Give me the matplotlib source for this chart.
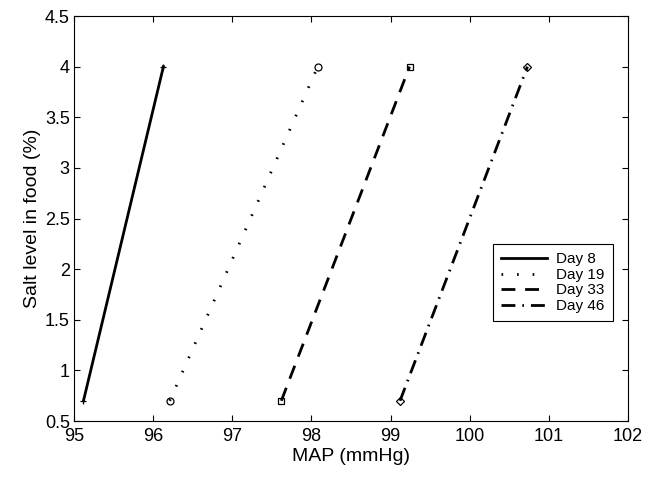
import matplotlib
matplotlib.use("Agg")
import matplotlib.pyplot as plt

plt.rcParams['font.family'] = ['Liberation Sans', 'DejaVu Sans']

# salt level in food (%) and mean arterial pressure per day
salt = [0.7, 4.0]
map_day8 = [95.12, 96.13]
map_day19 = [96.21, 98.08]
map_day33 = [97.62, 99.24]
map_day46 = [99.12, 100.73]

labels = ["Day 8", "Day 19", "Day 33", "Day 46"]
xticks = [95, 96, 97, 98, 99, 100, 101, 102]
yticks = [0.5, 1, 1.5, 2, 2.5, 3, 3.5, 4, 4.5]

fig = plt.figure(figsize=(6.57, 4.78), dpi=100)
ax = fig.add_axes([0.1126, 0.1192, 0.8432, 0.8473])

series = [
    (map_day8, '-', '+'),
    (map_day19, (0, (0.6, 5)), 'o'),
    (map_day33, (0, (5, 3.5)), 's'),
    (map_day46, (0, (5, 2.5, 0.6, 2.5)), 'D'),
]
for (xs, ls, mk), lab in zip(series, labels):
    ax.plot(xs, salt, color='black', linestyle=ls, linewidth=2.0,
            marker=mk, markersize=5 if mk != 'D' else 4,
            markerfacecolor='none', markeredgecolor='black',
            markeredgewidth=0.9, label=lab)

ax.set_xlim(95, 102)
ax.set_ylim(0.5, 4.5)
ax.set_xticks(xticks)
ax.set_yticks(yticks)
ax.set_xticklabels([str(t) for t in xticks])
ax.set_yticklabels([f"{t:g}" for t in yticks])
ax.tick_params(direction='in', top=True, right=True, length=4,
               labelsize=13, width=0.8)
ax.tick_params(axis='x', pad=5)
ax.tick_params(axis='y', pad=3)
for sp in ax.spines.values():
    sp.set_linewidth(0.8)

ax.set_xlabel("MAP (mmHg)", fontsize=14, labelpad=2)
ax.set_ylabel("Salt level in food (%)", fontsize=14, labelpad=3)

leg = ax.legend(loc='upper right', bbox_to_anchor=(0.973, 0.437),
                borderaxespad=0, fontsize=11, handlelength=3.0,
                labelspacing=0.1, handletextpad=0.6, borderpad=0.55,
                fancybox=False, framealpha=1, edgecolor='black')
leg.get_frame().set_linewidth(0.8)
for h in leg.legend_handles:
    h.set_marker('')

fig.savefig("out.png", dpi=100)
